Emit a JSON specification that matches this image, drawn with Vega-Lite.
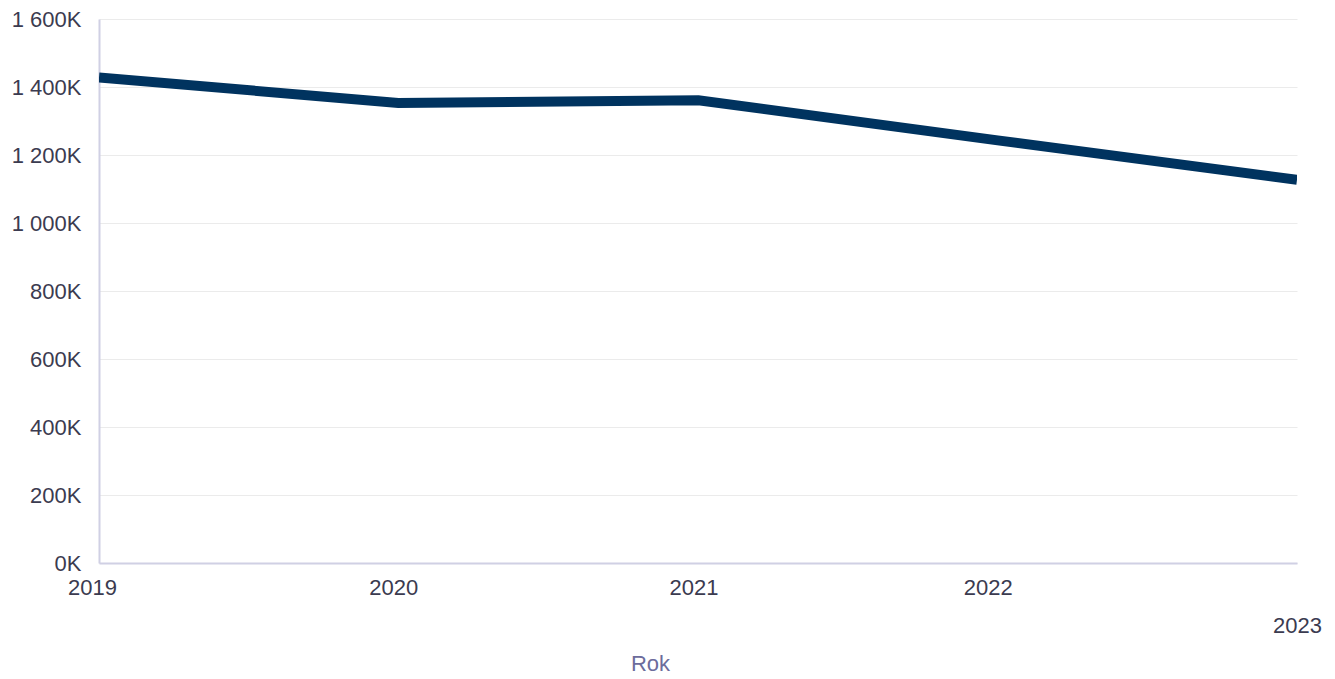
{
  "$schema": "https://vega.github.io/schema/vega-lite/v6.json",
  "width": 1198,
  "height": 544,
  "autosize": {"type": "none"},
  "padding": {"left": 99, "top": 19, "right": 38, "bottom": 116},
  "background": "white",
  "config": {
    "view": {"stroke": null},
    "font": "Liberation Sans"
  },
  "data": {
    "values": [
      {"Rok": "2019-01-01", "value": 1428000},
      {"Rok": "2020-01-01", "value": 1353000},
      {"Rok": "2021-01-01", "value": 1361000},
      {"Rok": "2022-01-01", "value": 1243000},
      {"Rok": "2023-01-01", "value": 1127000}
    ]
  },
  "mark": {"type": "line", "color": "#00335f", "strokeWidth": 10, "strokeCap": "butt", "clip": true},
  "encoding": {
    "x": {
      "field": "Rok",
      "type": "temporal",
      "timeUnit": "year",
      "scale": {"domain": [{"year": 2019}, {"year": 2023}], "nice": false},
      "axis": {
        "title": "Rok",
        "titleFont": "Liberation Sans",
        "titleFontSize": 22,
        "titleFontWeight": "normal",
        "titleColor": "#6c6c9c",
        "titleX": 551,
        "titleY": 90,
        "titleBaseline": "top",
        "values": [{"year": 2019}, {"year": 2020}, {"year": 2021}, {"year": 2022}, {"year": 2023}],
        "format": "%Y",
        "labelFlush": false,
        "labelFontSize": 22,
        "labelColor": "#3b3b50",
        "labelPadding": {"condition": {"test": "year(datum.value) == 2023", "value": 52}, "value": 14},
        "labelOffset": {
          "condition": [
            {"test": "year(datum.value) == 2019", "value": -7},
            {"test": "year(datum.value) == 2020", "value": -5},
            {"test": "year(datum.value) == 2021", "value": -5},
            {"test": "year(datum.value) == 2022", "value": -10}
          ],
          "value": 0
        },
        "ticks": false,
        "grid": false,
        "domainColor": "#d0d0e4",
        "domainWidth": 2
      }
    },
    "y": {
      "field": "value",
      "type": "quantitative",
      "scale": {"domain": [0, 1600000], "nice": false},
      "axis": {
        "title": null,
        "values": [0, 200000, 400000, 600000, 800000, 1000000, 1200000, 1400000, 1600000],
        "labelExpr": "datum.value >= 1000000 ? '1 ' + format((datum.value - 1000000) / 1000, '03d') + 'K' : format(datum.value / 1000, 'd') + 'K'",
        "labelFontSize": 22,
        "labelColor": "#3b3b50",
        "labelPadding": 18,
        "ticks": false,
        "grid": true,
        "gridColor": "#ebebeb",
        "gridWidth": 1,
        "domainColor": "#d0d0e4",
        "domainWidth": 2
      }
    }
  }
}
